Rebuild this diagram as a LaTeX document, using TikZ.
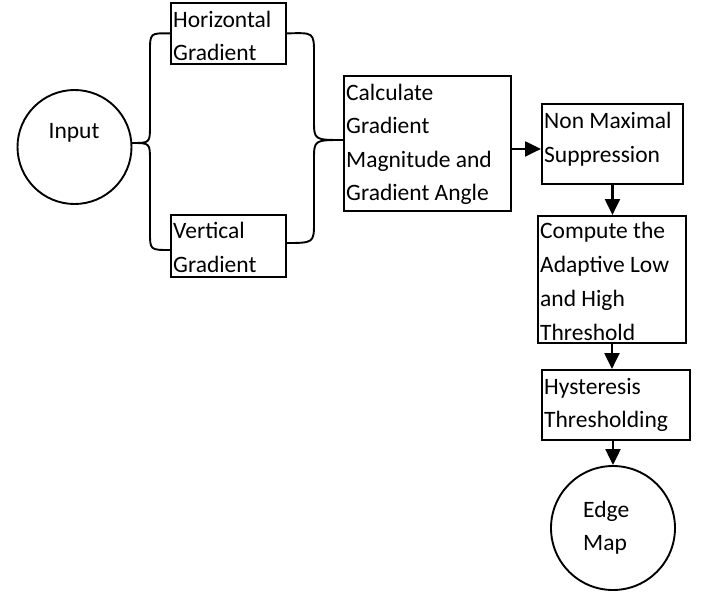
\documentclass[tikz,border=0pt]{standalone}
\usepackage{fontspec}
\setmainfont{Carlito}
\usetikzlibrary{arrows.meta}
\begin{document}
\begin{tikzpicture}[x=1pt,y=-1pt,
  box/.style={draw, line width=1.9pt, inner sep=0pt, anchor=north west},
  roundnode/.style={draw, circle, line width=1.9pt, inner sep=0pt},
  txt/.style={font=\fontsize{23.5}{33.5}\selectfont, inner sep=0pt, anchor=base west},
  conn/.style={line width=1.9pt},
  arr/.style={line width=2.2pt, -{Triangle[length=16pt,width=15pt]}}]
\useasboundingbox (0,0) rectangle (702,592);
% shapes
\node[roundnode, minimum size=114pt] (inp) at (74.5,147) {};
\node[box, minimum width=115pt, minimum height=61pt] (hg) at (170,2) {};
\node[box, minimum width=115pt, minimum height=62pt] (vg) at (170,214) {};
\node[box, minimum width=167pt, minimum height=135pt] (calc) at (343,75) {};
\node[box, minimum width=141pt, minimum height=80pt] (nm) at (541,103) {};
\node[box, minimum width=148pt, minimum height=127pt] (cp) at (537,215) {};
\node[box, minimum width=148pt, minimum height=70pt] (hy) at (541,369) {};
\node[roundnode, minimum size=124pt] (em) at (613,528) {};
% texts
\node[txt, anchor=base] (tinp) at (74,138) {Input};
\node[txt] (thg1) at (173,27) {Horizontal};
\node[txt] (thg2) at (173,60) {Gradient};
\node[txt] (tvg1) at (173,238) {Vertical};
\node[txt] (tvg2) at (173,272) {Gradient};
\node[txt] (tc1) at (346,100) {Calculate};
\node[txt] (tc2) at (346,133) {Gradient};
\node[txt] (tc3) at (346,167) {Magnitude and};
\node[txt] (tc4) at (346,200) {Gradient Angle};
\node[txt] (tn1) at (544,128) {Non Maximal};
\node[txt] (tn2) at (544,162) {Suppression};
\node[txt] (tp1) at (540,238) {Compute the};
\node[txt] (tp2) at (540,272) {Adaptive Low};
\node[txt] (tp3) at (540,306) {and High};
\node[txt] (tp4) at (540,340) {Threshold};
\node[txt] (th1) at (544,394) {Hysteresis};
\node[txt] (th2) at (544,427) {Thresholding};
\node[txt] (te1) at (583,517) {Edge};
\node[txt] (te2) at (583,550) {Map};
% left brace
\coordinate (lt) at (132,143);
\coordinate (lb) at (170,250);
\draw[conn] (lt) .. controls (150,143) .. (150,125) -- (150,52) .. controls (150,33) .. (hg.west);
\draw[conn] (lt) .. controls (150,143) .. (150,161) -- (150,232) .. controls (150,250) .. (lb);
% right brace
\coordinate (rt) at (343,140);
\coordinate (rb) at (285,243);
\draw[conn] (hg.east) .. controls (314,32.5) .. (314,54) -- (314,120) .. controls (314,140) .. (rt);
\draw[conn] (rt) .. controls (314,140) .. (314,160) -- (314,222) .. controls (314,243) .. (rb);
% arrows
\draw[arr] ([yshift=-5.5pt]calc.east) -- ([yshift=-5.5pt]calc.east -| nm.west);
\draw[arr] (nm.south) -- (nm.south |- cp.north);
\draw[arr] (cp.south) -- (cp.south |- hy.north);
\draw[arr] (em.north |- hy.south) -- (em.north);
\end{tikzpicture}
\end{document}
